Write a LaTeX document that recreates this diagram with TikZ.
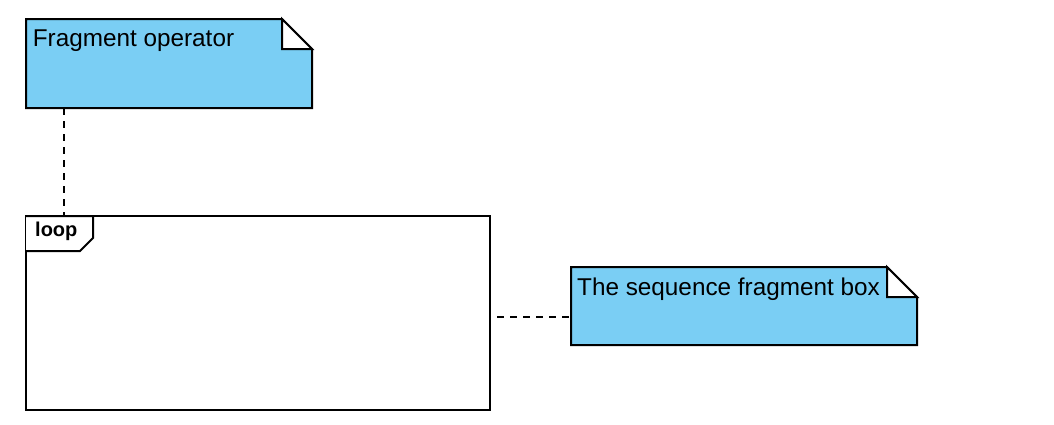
\documentclass[tikz,border=0pt]{standalone}
\usepackage{fontspec}
\setmainfont{Liberation Sans}
\definecolor{notefill}{RGB}{122,206,244}
\begin{document}
\begin{tikzpicture}[x=1pt, y=-1pt,
  box/.style={inner sep=0pt, outer sep=0pt, anchor=north west},
  txt/.style={anchor=base west, inner sep=0pt, font=\fontsize{24.3}{29}\selectfont},
  conn/.style={line width=1.5pt, dash pattern=on 7pt off 6pt}]
\useasboundingbox (0,0) rectangle (1054,424);
\node[box, minimum width=286pt, minimum height=89pt] (opnote) at (26,19) {};
\node[box, minimum width=346pt, minimum height=78pt] (seqnote) at (571,267) {};
\node[box, draw, line width=2pt, minimum width=464pt, minimum height=194pt] (loopbox) at (26,216) {};
\foreach \n in {opnote,seqnote}{
\draw[line width=2pt, fill=notefill] (\n.south west) -- (\n.north west) -- ([xshift=-30pt]\n.north east) -- ([yshift=-30pt]\n.north east) -- (\n.south east) -- cycle;
\draw[line width=2pt, fill=white] ([xshift=-30pt]\n.north east) -- ([xshift=-30pt,yshift=-30pt]\n.north east) -- ([yshift=-30pt]\n.north east) -- cycle;
}
\draw[line width=2pt, fill=white] (loopbox.north west) -- ++(67,0) -- ++(0,22) -- ++(-13,13) -- ++(-54,0);
\node[anchor=base west, inner sep=0pt, font=\bfseries\fontsize{20}{24}\selectfont] (looptag) at ([xshift=9pt,yshift=-20.7pt]loopbox.north west) {loop};
\node[txt] (optext) at ([xshift=6.7pt,yshift=-27.7pt]opnote.north west) {Fragment operator};
\node[txt] (seqtext) at ([xshift=6pt,yshift=-28pt]seqnote.north west) {The sequence fragment box};
\draw[conn] ([xshift=38pt]opnote.south west) -- ([xshift=38pt]loopbox.north west);
\coordinate (fragend) at (497,317);
\draw[conn] (fragend) -- (fragend -| seqnote.west);
\end{tikzpicture}
\end{document}
